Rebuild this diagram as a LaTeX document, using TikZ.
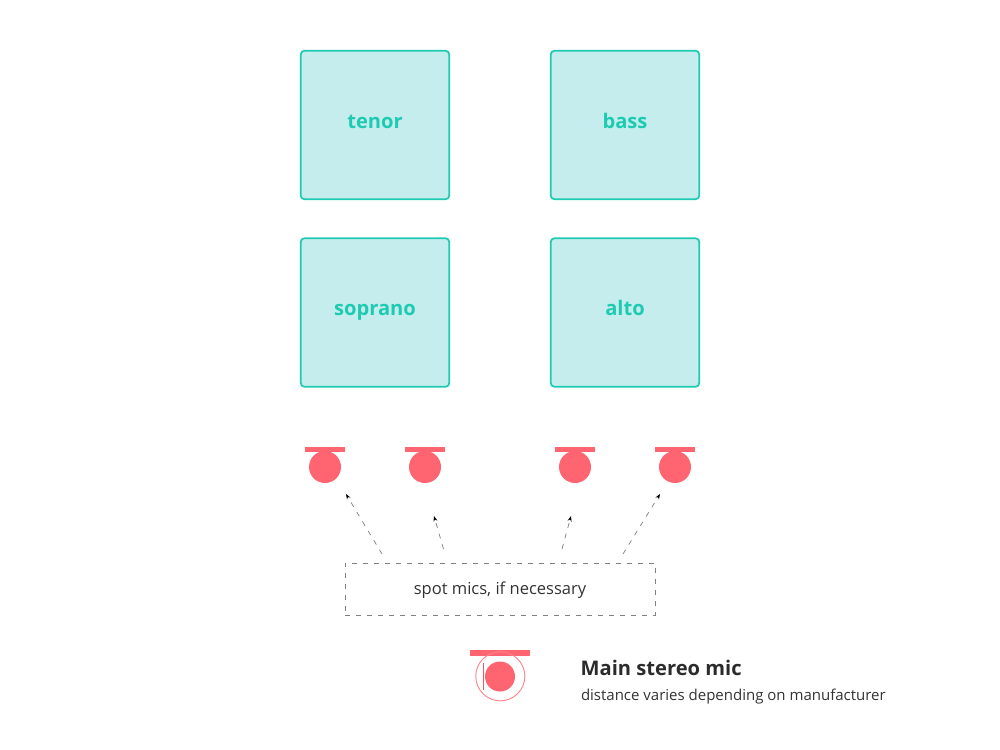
\documentclass[tikz,border=0pt]{standalone}
\usepackage{fontspec}
\setmainfont{Open Sans}
\usetikzlibrary{arrows.meta}

\definecolor{tealline}{RGB}{30,203,178}
\definecolor{tealfill}{RGB}{197,237,238}
\definecolor{micred}{RGB}{254,101,113}
\definecolor{textgrey}{RGB}{51,51,51}

\tikzset{every picture/.style={line width=0.75pt}}
\tikzset{
  section/.style={draw=tealline,fill=tealfill,line width=1.3pt,rounded corners=3pt,minimum width=111.5pt,minimum height=111.5pt,inner sep=0pt,text height=8pt,text depth=3.5pt,text=tealline,font=\fontsize{15.1}{18}\selectfont\bfseries},
  micbar/.style={fill=micred,draw=none},
  micball/.style={circle,fill=micred,draw=none,minimum size=24pt,inner sep=0pt},
  spotarrow/.style={dash pattern={on 3.75pt off 4.5pt},line width=0.55pt,draw=black!50,-{Stealth[length=4pt,width=3pt,black]}}
}

\begin{document}
\begin{tikzpicture}[x=0.75pt,y=0.75pt,yscale=-1,xscale=1]
\useasboundingbox (0,0) rectangle (1000,750);

% Sections
\node [section] (tenor) at (375,125) {tenor};
\node [section] (bass) at (625,125) {bass};
\node [section] (soprano) at (375,312.5) {soprano};
\node [section] (alto) at (625,312.5) {alto};

% Spot mics
\foreach \micname/\micx in {spota/325,spotb/425,spotc/575,spotd/675}{
  \fill [micbar] (\micx-20,447) rectangle (\micx+20,451.5);
  \node [micball] (\micname) at (\micx,467) {};
}

% Text box
\node [draw=black!50,line width=0.55pt,dash pattern={on 3.75pt off 4.5pt},minimum width=232.5pt,minimum height=39pt,inner sep=0pt,text height=9.3pt,text depth=0.5pt,text=textgrey,font=\fontsize{12.4}{15}\selectfont] (spotbox) at (500,589) {spot mics, if necessary};

% Arrows
\coordinate (starta) at (382,554);
\coordinate (enda) at (346,494);
\coordinate (startb) at (443.5,549);
\coordinate (endb) at (434,516);
\coordinate (startc) at (562,549);
\coordinate (endc) at (571,516);
\coordinate (startd) at (623,554);
\coordinate (endd) at (660,494);
\draw [spotarrow] (starta) -- (enda);
\draw [spotarrow] (startb) -- (endb);
\draw [spotarrow] (startc) -- (endc);
\draw [spotarrow] (startd) -- (endd);

% Main stereo mic
\fill [micbar] (470,650) rectangle (530,656);
\node [circle,draw=micred!80,fill=none,line width=0.7pt,minimum size=36.8pt,inner sep=0pt] (mainring) at (500.3,676.3) {};
\node [micball,minimum size=22.5pt] (mainball) at (500,676.5) {};
\draw [micred!90!black,line width=1.3pt] (483.5,663) -- (483.5,690);

% Text Node
\node [anchor=west,inner sep=0pt,text=textgrey!85!black,font=\fontsize{15.1}{18}\selectfont\bfseries] (maintitle) at (580.2,668) {Main stereo mic};
% Text Node
\node [anchor=west,inner sep=0pt,text=textgrey,font=\fontsize{11.25}{14}\selectfont] (mainnote) at (580.5,696.5) {distance varies depending on manufacturer};

\end{tikzpicture}
\end{document}
